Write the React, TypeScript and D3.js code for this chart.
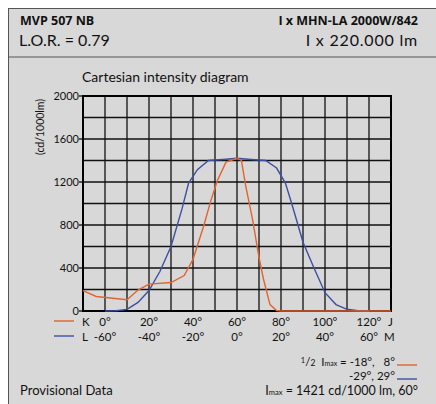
import * as React from 'react';
import * as d3 from 'd3';

// orange curve, K plane (degrees, cd/1000lm)
const kAngles = [-10, -4, 10, 15, 20, 30, 36, 40, 45, 48, 51, 55, 60, 62, 64, 67, 70, 72, 75, 78, 80, 130];
const kValues = [190, 135, 105, 195, 250, 265, 330, 480, 800, 1020, 1210, 1385, 1421, 1400, 1160, 860, 500, 300, 60, 5, 0, 0];

// blue curve, L plane
const lAngles = [-60, -55, -50, -45, -40, -35, -30, -25, -22, -18, -13, -5, 0, 5, 13, 18, 22, 25, 30, 35, 40, 45, 50, 55, 60];
const lValues = [0, 3, 15, 80, 190, 370, 600, 950, 1190, 1315, 1400, 1412, 1421, 1412, 1400, 1330, 1190, 990, 640, 400, 170, 60, 16, 3, 0];

const kTicks = [0, 20, 40, 60, 80, 100, 120];
const lTicks = [-60, -40, -20, 0, 20, 40, 60];
const yTicks = [0, 400, 800, 1200, 1600, 2000];

const FONT = 'Lato, "DejaVu Sans", sans-serif';
const ORANGE = '#e2642f';
const BLUE = '#3d4fa3';
const NB = '\u00a0';

const App = () => {
  const x = d3.scaleLinear().domain([-10, 130]).range([83, 391]);
  const y = d3.scaleLinear().domain([0, 2000]).range([311, 96]);

  const line = d3
    .line<[number, number]>()
    .x(d => x(d[0]))
    .y(d => y(d[1]));

  const orange = kAngles.map((a, i) => [a, kValues[i]] as [number, number]);
  const blue = lAngles.map((a, i) => [a + 60, lValues[i]] as [number, number]);

  const vGrid = d3.range(-10, 131, 10);
  const hGrid = d3.range(0, 2001, 200);

  return (
    <svg
      width={436}
      height={404}
      style={{ position: 'absolute', left: 0, top: 0 }}
      fontFamily={FONT}
    >
      <rect x={0} y={0} width={436} height={404} fill="#fff" />
      <rect x={8.5} y={8.5} width={440} height={420} fill="#d8d8d8" stroke="#555" strokeWidth={1} />
      <line x1={8} x2={436} y1={57} y2={57} stroke="#555" strokeWidth={1} />

      <text x={20} y={25} fontSize={12.5} fontWeight="bold" fill="#111" fontFamily='"Open Sans", sans-serif'>
        MVP 507 NB
      </text>
      <text
        x={418}
        y={25}
        fontSize={12.5}
        fontWeight="bold"
        fill="#111"
        textAnchor="end"
        fontFamily='"Open Sans", sans-serif'
      >
        I x MHN-LA 2000W/842
      </text>
      <text x={19} y={46} fontSize={16} fill="#111">L.O.R. = 0.79</text>
      <text x={418} y={46} fontSize={16} fill="#111" textAnchor="end" letterSpacing={0.8}>
        I x 220.000 lm
      </text>

      <text x={82} y={82} fontSize={14} fill="#111">Cartesian intensity diagram</text>
      <text
        transform="translate(44,127) rotate(-90)"
        fontSize={10.5}
        textAnchor="middle"
        fill="#111"
      >
        (cd/1000lm)
      </text>

      {vGrid.map(v => (
        <line key={'v' + v} x1={x(v)} x2={x(v)} y1={y(2000)} y2={y(0)} stroke="#111" strokeWidth={1.3} />
      ))}
      {hGrid.map(v => (
        <line key={'h' + v} x1={x(-10)} x2={x(130)} y1={y(v)} y2={y(v)} stroke="#111" strokeWidth={1.3} />
      ))}
      <rect
        x={x(-10)}
        y={y(2000)}
        width={x(130) - x(-10)}
        height={y(0) - y(2000)}
        fill="none"
        stroke="#000"
        strokeWidth={2}
      />

      {yTicks.map(v => (
        <g key={'y' + v}>
          <line x1={x(-10) - 4} x2={x(-10)} y1={y(v)} y2={y(v)} stroke="#000" strokeWidth={1.2} />
          <text x={x(-10) - 4} y={y(v) + 4} fontSize={11} textAnchor="end" fill="#111">
            {v}
          </text>
        </g>
      ))}

      <path d={line(blue) || ''} fill="none" stroke={BLUE} strokeWidth={1.4} />
      <path d={line(orange) || ''} fill="none" stroke={ORANGE} strokeWidth={1.4} />

      <line x1={54} x2={74} y1={321} y2={321} stroke={ORANGE} strokeWidth={1.4} />
      <line x1={54} x2={74} y1={336} y2={336} stroke={BLUE} strokeWidth={1.4} />
      <text x={82} y={326} fontSize={11.5} fill="#111">K</text>
      <text x={82} y={341} fontSize={11.5} fill="#111">L</text>
      {kTicks.map(v => (
        <text key={'k' + v} x={x(v)} y={326} fontSize={11.5} textAnchor="middle" fill="#111">
          {v}°
        </text>
      ))}
      {lTicks.map(v => (
        <text key={'l' + v} x={x(v + 60)} y={341} fontSize={11.5} textAnchor="middle" fill="#111">
          {v}°
        </text>
      ))}
      <text x={388} y={326} fontSize={11.5} fill="#111">J</text>
      <text x={384} y={341} fontSize={11.5} fill="#111">M</text>

      <text x={395} y={366} fontSize={11.5} textAnchor="end" fill="#111">
        <tspan fontSize={7.5} dy={-3}>1</tspan>
        <tspan dy={3}>/</tspan>
        <tspan fontSize={8.5}>2</tspan>
        <tspan>{NB + NB + 'I'}</tspan>
        <tspan fontSize={7}>max</tspan>
        <tspan>{NB + '=' + NB + '-18°,' + NB + NB + NB + '8°'}</tspan>
      </text>
      <line x1={397} x2={417} y1={365} y2={365} stroke={ORANGE} strokeWidth={1.4} />
      <text x={395} y={380} fontSize={11.5} textAnchor="end" fill="#111">-29°, 29°</text>
      <line x1={397} x2={417} y1={379} y2={379} stroke={BLUE} strokeWidth={1.4} />

      <text x={20} y={395} fontSize={13} fill="#111">Provisional Data</text>
      <text x={418} y={395} fontSize={12.5} textAnchor="end" fill="#111">
        <tspan>I</tspan>
        <tspan fontSize={7.5}>max</tspan>
        <tspan>{' = 1421 cd/1000 lm, 60°'}</tspan>
      </text>
    </svg>
  );
};

export default App;
